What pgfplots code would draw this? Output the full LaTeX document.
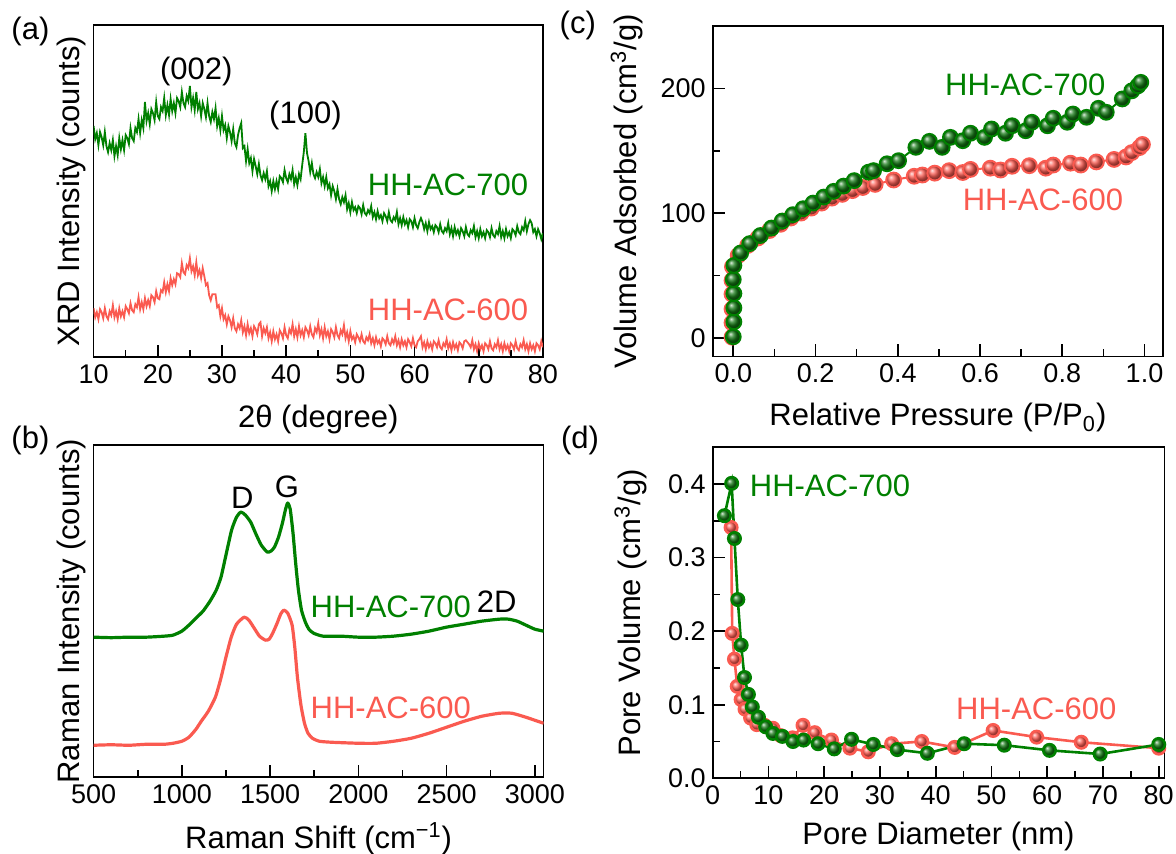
\documentclass[border=0pt]{standalone}
\usepackage{fontspec}
\setmainfont{Liberation Sans}
\usepackage{pgfplots}
\pgfplotsset{compat=1.18}

\definecolor{hhgreen}{RGB}{0,128,0}
\definecolor{hhball}{RGB}{20,120,20}
\definecolor{hhred}{RGB}{250,90,80}
\newcommand\labfont{\fontsize{15.5}{18}\selectfont}
\newcommand\tickfont{\fontsize{13.5}{16}\selectfont}

\pgfplotsset{
  panel/.style={
    scale only axis,
    axis line style={line width=0.8pt},
    every tick/.style={black, line width=0.8pt},
    tick align=inside, xtick pos=bottom, ytick pos=left,
    major tick length=6pt, minor tick length=3.5pt,
    tick label style={font=\tickfont},
    label style={font=\labfont},
    /pgf/number format/assume math mode=true,
    /pgf/number format/1000 sep={},
  },
}

\begin{document}
\begin{tikzpicture}
\useasboundingbox (0,0) rectangle (588pt,427pt);

%% (a) XRD
\begin{axis}[panel,
  at={(46.8pt,248.35pt)}, anchor=south west,
  width=224.65pt, height=166.15pt,
  xmin=10, xmax=80, ymin=0, ymax=332,
  xtick={10,20,...,80}, minor x tick num=1, ytick=\empty,
  xlabel={2θ (degree)}, ylabel={XRD Intensity (counts)},
  xlabel style={at={(axis description cs:0.5,-0.21)}, anchor=base},
  ylabel style={at={(axis description cs:-0.05,0.5)}, anchor=center},
]
\addplot[hhgreen, line width=0.9pt] table {
10.00 231
10.25 218
10.50 224
10.75 212
11.00 225
11.25 220
11.50 212
11.75 225
12.00 211
12.25 205
12.50 214
12.75 207
13.00 217
13.25 201
13.50 211
13.75 202
14.00 219
14.25 208
14.50 217
14.75 207
15.00 222
15.25 219
15.50 213
15.75 229
16.00 219
16.25 216
16.50 229
16.75 225
17.00 238
17.25 224
17.50 237
17.75 229
18.00 255
18.25 236
18.50 244
18.75 233
19.00 248
19.25 244
19.50 237
19.75 255
20.00 241
20.25 238
20.50 250
20.75 246
21.00 259
21.25 242
21.50 252
21.75 242
22.00 258
22.25 246
22.50 254
22.75 244
23.00 259
23.25 256
23.50 250
23.75 265
24.00 254
24.25 250
24.50 261
24.75 256
25.00 271
25.25 250
25.50 259
25.75 247
26.00 265
26.25 248
26.50 254
26.75 241
27.00 254
27.25 248
27.50 240
27.75 254
28.00 241
28.25 235
28.50 245
28.75 238
29.00 249
29.25 231
29.50 239
29.75 227
30.00 241
30.25 227
30.50 232
30.75 219
31.00 231
31.25 225
31.50 216
31.75 228
32.00 214
32.25 210
32.50 222
32.75 229
33.00 234
33.25 209
33.50 211
33.75 196
34.00 208
34.25 194
34.50 199
34.75 186
35.00 198
35.25 191
35.50 183
35.75 193
36.00 182
36.25 177
36.50 184
36.75 178
37.00 186
37.25 171
37.50 176
37.75 166
38.00 176
38.25 168
38.50 176
38.75 168
39.00 181
39.25 179
39.50 175
39.75 187
40.00 179
40.25 175
40.50 183
40.75 178
41.00 187
41.25 173
41.50 180
41.75 172
42.00 183
42.25 178
42.50 192
42.75 205
43.00 224
43.25 204
43.50 196
43.75 185
44.00 194
44.25 183
44.50 179
44.75 185
45.00 180
45.25 188
45.50 174
45.75 180
46.00 171
46.25 180
46.50 169
46.75 173
47.00 162
47.25 171
47.50 166
47.75 158
48.00 168
48.25 158
48.50 153
48.75 160
49.00 155
49.25 162
49.50 148
49.75 154
50.00 145
50.25 155
50.50 147
50.75 150
51.00 144
51.25 151
51.50 149
51.75 143
52.00 152
52.25 144
52.50 142
52.75 147
53.00 144
53.25 151
53.50 140
53.75 145
54.00 138
54.25 146
54.50 139
54.75 142
55.00 136
55.25 144
55.50 141
55.75 136
56.00 145
56.25 137
56.50 135
56.75 140
57.00 137
57.25 145
57.50 133
57.75 139
58.00 132
58.25 140
58.50 133
58.75 137
59.00 130
59.25 138
59.50 136
59.75 130
60.00 139
60.25 132
60.50 129
60.75 135
61.00 139
61.25 135
61.50 128
61.75 134
62.00 126
62.25 135
62.50 128
62.75 131
63.00 125
63.25 132
63.50 130
63.75 125
64.00 133
64.25 126
64.50 124
64.75 129
65.00 126
65.25 134
65.50 123
65.75 129
66.00 121
66.25 130
66.50 123
66.75 127
67.00 121
67.25 129
67.50 126
67.75 121
68.00 130
68.25 123
68.50 121
68.75 127
69.00 124
69.25 131
69.50 120
69.75 126
70.00 119
70.25 128
70.50 121
70.75 125
71.00 119
71.25 127
71.50 125
71.75 120
72.00 129
72.25 122
72.50 120
72.75 126
73.00 123
73.25 131
73.50 120
73.75 126
74.00 119
74.25 128
74.50 121
74.75 125
75.00 119
75.25 128
75.50 126
75.75 122
76.00 131
76.25 125
76.50 123
76.75 130
77.00 127
77.25 136
77.50 126
77.75 133
78.00 137
78.25 134
78.50 125
78.75 128
79.00 121
79.25 128
79.50 124
79.75 118
80.00 124
};
\addplot[hhred, line width=0.9pt] table {
10.00 49
10.25 40
10.50 45
10.75 38
11.00 48
11.25 45
11.50 39
11.75 49
12.00 41
12.25 38
12.50 46
12.75 42
13.00 52
13.25 40
13.50 46
13.75 38
14.00 49
14.25 41
14.50 46
14.75 40
15.00 51
15.25 48
15.50 44
15.75 54
16.00 47
16.25 45
16.50 53
16.75 50
17.00 60
17.25 48
17.50 55
17.75 48
18.00 59
18.25 51
18.50 57
18.75 51
19.00 62
19.25 60
19.50 55
19.75 66
20.00 59
20.25 58
20.50 67
20.75 65
21.00 75
21.25 65
21.50 73
21.75 66
22.00 79
22.25 72
22.50 78
22.75 73
23.00 84
23.25 83
23.50 80
23.75 94
24.00 85
24.25 83
24.50 92
24.75 89
25.00 99
25.25 86
25.50 91
25.75 82
26.00 95
26.25 82
26.50 87
26.75 79
27.00 89
27.25 81
27.50 72
27.75 74
28.00 62
28.25 57
28.50 63
28.75 63
29.00 63
29.25 50
29.50 52
29.75 41
30.00 49
30.25 38
30.50 42
30.75 33
31.00 41
31.25 37
31.50 30
31.75 39
32.00 29
32.25 26
32.50 33
32.75 29
33.00 37
33.25 25
33.50 31
33.75 22
34.00 33
34.25 24
34.50 29
34.75 21
35.00 31
35.25 28
35.50 23
35.75 33
36.00 35
36.25 21
36.50 29
36.75 24
37.00 30
37.25 19
37.50 25
37.75 16
38.00 26
38.25 18
38.50 23
38.75 16
39.00 27
39.25 24
39.50 19
39.75 30
40.00 22
40.25 19
40.50 28
40.75 24
41.00 33
41.25 21
41.50 28
41.75 20
42.00 31
42.25 22
42.50 27
42.75 20
43.00 30
43.25 27
43.50 22
43.75 31
44.00 23
44.25 20
44.50 29
44.75 25
45.00 34
45.25 22
45.50 28
45.75 19
46.00 30
46.25 21
46.50 26
46.75 18
47.00 28
47.25 25
47.50 20
47.75 30
48.00 22
48.25 19
48.50 27
48.75 23
49.00 32
49.25 19
49.50 25
49.75 16
50.00 26
50.25 18
50.50 21
50.75 15
51.00 23
51.25 20
51.50 16
51.75 23
52.00 16
52.25 14
52.50 20
52.75 17
53.00 23
53.25 14
53.50 19
53.75 12
54.00 20
54.25 14
54.50 17
54.75 11
55.00 19
55.25 17
55.50 13
55.75 21
56.00 14
56.25 12
56.50 18
56.75 14
57.00 21
57.25 12
57.50 17
57.75 10
58.00 18
58.25 12
58.50 16
58.75 10
59.00 18
59.25 15
59.50 11
59.75 19
60.00 12
60.25 10
60.50 16
60.75 18
61.00 21
61.25 10
61.50 15
61.75 8
62.00 16
62.25 10
62.50 14
62.75 8
63.00 16
63.25 14
63.50 10
63.75 17
64.00 10
64.25 8
64.50 14
64.75 11
65.00 18
65.25 9
65.50 14
65.75 7
66.00 15
66.25 9
66.50 13
66.75 7
67.00 15
67.25 13
67.50 9
67.75 16
68.00 17
68.25 15
68.50 13
68.75 10
69.00 17
69.25 8
69.50 13
69.75 6
70.00 14
70.25 8
70.50 12
70.75 6
71.00 14
71.25 12
71.50 8
71.75 16
72.00 9
72.25 7
72.50 13
72.75 10
73.00 17
73.25 8
73.50 13
73.75 6
74.00 14
74.25 8
74.50 12
74.75 6
75.00 14
75.25 12
75.50 8
75.75 16
76.00 9
76.25 7
76.50 13
76.75 10
77.00 17
77.25 8
77.50 13
77.75 6
78.00 14
78.25 8
78.50 12
78.75 6
79.00 14
79.25 12
79.50 8
79.75 16
80.00 10
};
\node[font=\labfont] at (axis cs:26,286) {(002)};
\node[font=\labfont] at (axis cs:43,242) {(100)};
\node[font=\labfont, text=hhgreen, anchor=east] at (axis cs:78.8,172) {HH-AC-700};
\node[font=\labfont, text=hhred, anchor=east] at (axis cs:78.8,47) {HH-AC-600};
\end{axis}

%% (b) Raman
\begin{axis}[panel,
  at={(46.8pt,38.35pt)}, anchor=south west,
  width=225pt, height=166.15pt,
  xmin=500, xmax=3050, ymin=0, ymax=332,
  xtick={500,1000,...,3000}, minor x tick num=1, ytick=\empty,
  xlabel={Raman Shift (cm\textsuperscript{−1})}, ylabel={Raman Intensity (counts)},
  xlabel style={at={(axis description cs:0.5,-0.213)}, anchor=base},
  ylabel style={at={(axis description cs:-0.05,0.5)}, anchor=center},
]
\addplot[hhgreen, line width=1.6pt, line join=round, smooth, tension=0.35] coordinates {
(500,140) (600,139.5) (700,140) (800,140) (900,141) (950,142) (1000,146)
(1040,152) (1080,159) (1120,166) (1160,176) (1195,187) (1222,200) (1250,222)
(1282,247) (1310,260) (1335,265) (1360,262) (1390,255) (1420,243)
(1450,232) (1484,225) (1505,226) (1525,230) (1548,240) (1570,254)
(1588,268) (1600,274) (1614,268) (1630,244) (1645,214) (1660,188)
(1678,167) (1700,155) (1720,148) (1746,144) (1800,141) (1900,141)
(2000,140) (2100,140) (2200,141) (2300,143) (2400,146) (2500,150)
(2600,153) (2700,156) (2800,158) (2850,158) (2900,156) (2950,152)
(3000,148) (3050,146)
};
\addplot[hhred, line width=1.6pt, line join=round, smooth, tension=0.35] coordinates {
(500,32) (600,32.5) (700,32) (800,33) (900,33) (950,34) (1000,36)
(1040,40) (1080,48) (1110,56) (1150,66) (1190,80) (1220,98) (1250,120)
(1280,140) (1310,153) (1353,160) (1380,157) (1410,149) (1440,141)
(1474,137) (1495,138) (1515,144) (1540,154) (1560,163) (1578,167)
(1600,164) (1625,152) (1640,130) (1655,100) (1675,72) (1695,54)
(1715,44) (1740,39) (1780,36) (1850,35) (2000,34) (2100,34) (2200,36)
(2300,39) (2400,44) (2500,50) (2600,56) (2700,61) (2800,64) (2870,64)
(2950,60) (3000,57) (3050,54)
};
\node[font=\labfont] at (axis cs:1343,279) {D};
\node[font=\labfont] at (axis cs:1595,290) {G};
\node[font=\labfont] at (axis cs:2784,175) {2D};
\node[font=\labfont, text=hhgreen, anchor=west] at (axis cs:1690,170) {HH-AC-700};
\node[font=\labfont, text=hhred, anchor=west] at (axis cs:1690,69) {HH-AC-600};
\end{axis}

%% (c) isotherms
\begin{axis}[panel,
  at={(356.35pt,248.75pt)}, anchor=south west,
  width=225.15pt, height=165.25pt,
  xmin=-0.05, xmax=1.045, ymin=-15, ymax=250,
  xtick={0,0.2,...,1}, minor x tick num=1,
  ytick={0,100,200}, minor y tick num=1,
  xticklabel style={/pgf/number format/.cd, fixed, fixed zerofill, precision=1},
  xlabel={Relative Pressure (P/P\textsubscript{0})},
  ylabel={Volume Adsorbed (cm\textsuperscript{3}/g)},
  xlabel style={at={(axis description cs:0.5,-0.21)}, anchor=base},
  ylabel style={at={(axis description cs:-0.191,0.5)}, anchor=center},
  clip=false,
]
\addplot[hhred, line width=1pt, mark=ball, mark size=3.7pt,
  mark options={ball color=hhred}] coordinates {
(-0.003,0.5) (-0.003,12) (-0.003,23) (-0.003,35) (-0.003,46) (-0.002,57)
(0.012,66) (0.035,74) (0.06,80) (0.088,86) (0.115,91) (0.14,96)
(0.165,100) (0.19,104) (0.215,108) (0.24,112) (0.265,115) (0.29,118)
(0.315,120.5) (0.345,123) (0.39,126.5) (0.44,129.5) (0.46,130.5)
(0.49,132) (0.525,134) (0.558,132.5) (0.577,135) (0.625,136) (0.65,134.5)
(0.678,137.5) (0.72,138) (0.76,136) (0.778,138.5) (0.82,140) (0.845,138.5)
(0.883,141) (0.926,143) (0.955,145) (0.969,148.5) (0.988,152.5) (0.995,155)
};
\addplot[hhgreen, line width=1pt, mark=ball, mark size=3.7pt,
  mark options={ball color=hhball}] coordinates {
(0,0.8) (0.0015,12.8) (0.0015,24) (0.0015,35.5) (0,46.7) (0.0015,58)
(0.018,68) (0.040,75.5) (0.066,82) (0.093,88) (0.119,93.6) (0.145,98.7)
(0.170,103.5) (0.194,108) (0.220,112.8) (0.244,117.4) (0.268,121.6)
(0.294,126) (0.329,132.8) (0.341,134) (0.374,139.5) (0.402,142)
(0.444,152.7) (0.477,157.5) (0.508,152.7) (0.528,160.7) (0.558,158)
(0.577,164) (0.611,160.7) (0.628,167.4) (0.662,164) (0.678,170)
(0.711,166) (0.726,172.8) (0.764,170) (0.778,176) (0.812,172.8)
(0.826,179.4) (0.859,176.8) (0.888,184) (0.907,180.8) (0.946,191.5)
(0.969,198) (0.984,202) (0.991,204.8)
};
\node[font=\labfont, text=hhgreen, anchor=east] at (axis cs:0.922,203) {HH-AC-700};
\node[font=\labfont, text=hhred, anchor=east] at (axis cs:0.965,111) {HH-AC-600};
\end{axis}

%% (d) pore size distribution
\begin{axis}[panel,
  at={(356.35pt,37.85pt)}, anchor=south west,
  width=225.8pt, height=165.5pt,
  xmin=0, xmax=81, ymin=0, ymax=0.45,
  xtick={0,10,...,80}, minor x tick num=1,
  ytick={0,0.1,...,0.4}, minor y tick num=1,
  yticklabel style={/pgf/number format/.cd, fixed, fixed zerofill, precision=1},
  xlabel={Pore Diameter (nm)},
  ylabel={Pore Volume (cm\textsuperscript{3}/g)},
  xlabel style={at={(axis description cs:0.5,-0.2)}, anchor=base},
  ylabel style={at={(axis description cs:-0.182,0.5)}, anchor=center},
  clip=false,
]
\addplot[hhred, line width=1.3pt, mark=ball, mark size=3.1pt,
  mark options={ball color=hhred}] coordinates {
(3.3,0.341) (3.5,0.197) (3.9,0.162) (4.4,0.125) (5.1,0.107) (5.8,0.094)
(6.8,0.082) (7.9,0.073) (9.3,0.072) (10.8,0.068) (12.2,0.058) (14.3,0.055)
(16.2,0.072) (18.3,0.062) (21.3,0.052) (24.6,0.041) (27.9,0.036)
(32.1,0.047) (37.5,0.050) (43.4,0.042) (50.3,0.065) (58.1,0.056)
(66.1,0.049) (80,0.041)
};
\addplot[hhgreen, line width=1.3pt, mark=ball, mark size=3.1pt,
  mark options={ball color=hhball}] coordinates {
(2.1,0.357) (3.4,0.401) (3.9,0.326) (4.5,0.243) (5.1,0.181) (5.7,0.137)
(6.4,0.114) (7.1,0.097) (8.2,0.083) (9.5,0.070) (10.8,0.061) (12.5,0.057)
(14.4,0.050) (16.3,0.052) (18.9,0.047) (21.8,0.040) (24.9,0.053)
(28.8,0.046) (33.1,0.039) (38.5,0.034) (45.1,0.047) (52.3,0.045)
(60.4,0.038) (69.5,0.033) (80,0.046)
};
\node[font=\labfont, text=hhgreen, anchor=west] at (axis cs:5.4,0.398) {HH-AC-700};
\node[font=\labfont, text=hhred, anchor=west] at (axis cs:42.4,0.095) {HH-AC-600};
\end{axis}

\node[font=\labfont] at (15.2pt,411.2pt) {(a)};
\node[font=\labfont] at (15.2pt,207pt) {(b)};
\node[font=\labfont] at (288.9pt,414.5pt) {(c)};
\node[font=\labfont] at (290pt,207pt) {(d)};
\end{tikzpicture}
\end{document}
